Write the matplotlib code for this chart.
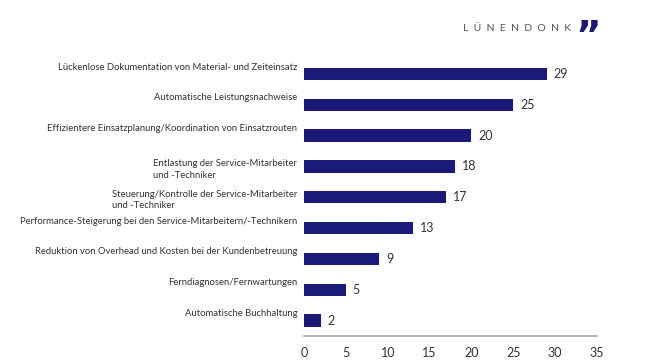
import matplotlib.pyplot as plt

# categories (top to bottom) and values
labels = [
    "Lückenlose Dokumentation von Material- und Zeiteinsatz",
    "Automatische Leistungsnachweise",
    "Effizientere Einsatzplanung/Koordination von Einsatzrouten",
    "Entlastung der Service-Mitarbeiter\nund -Techniker",
    "Steuerung/Kontrolle der Service-Mitarbeiter\nund -Techniker",
    "Performance-Steigerung bei den Service-Mitarbeitern/-Technikern",
    "Reduktion von Overhead und Kosten bei der Kundenbetreuung",
    "Ferndiagnosen/Fernwartungen",
    "Automatische Buchhaltung",
]
values = [29, 25, 20, 18, 17, 13, 9, 5, 2]
xticks = [0, 5, 10, 15, 20, 25, 30, 35]

bar_color = "#1c1a78"
text_color = "#333333"

plt.rcParams['font.family'] = ['Lato', 'DejaVu Sans']

fig = plt.figure(figsize=(6.5, 3.64), dpi=100)
ax = fig.add_axes([0.4677, 0.077, 0.4508, 0.762])

pos = list(range(len(values)))
ax.barh(pos, values, height=0.4, color=bar_color)
ax.set_ylim(len(values) - 0.5, -0.5)
ax.set_xlim(0, 35)

for p, v in zip(pos, values):
    ax.annotate(str(v), (v, p), xytext=(5, 0), textcoords='offset points',
                va='center', ha='left', fontsize=9, color=text_color)

# category labels sit a little above the bars, right aligned left of the axis
for p, lab in zip(pos, labels):
    dy = -2 if "\n" in lab else 5
    ax.annotate(lab, (0, p), xycoords=('axes fraction', 'data'),
                xytext=(-5, dy), textcoords='offset points',
                ha='right', va='center', fontsize=6.8, color=text_color,
                multialignment='left', linespacing=1.4)

ax.set_yticks([])
ax.set_xticks(xticks)
ax.tick_params(axis='x', length=0, pad=8, labelsize=9, colors=text_color)
for s in ['top', 'right', 'left']:
    ax.spines[s].set_visible(False)
ax.spines['bottom'].set_color('#a6a6a6')
ax.spines['bottom'].set_linewidth(1.2)

# logo
fig.text(0.878, 0.922, "L  Ü  N  E  N  D  O  N  K", ha='right', va='center',
         fontsize=7.5, color='#555555')
fig.text(0.886, 0.895, "\u201d", ha='left', va='center', fontsize=28,
         fontweight='heavy', color=bar_color, family='DejaVu Sans')

fig.savefig("out.png", dpi=100)
